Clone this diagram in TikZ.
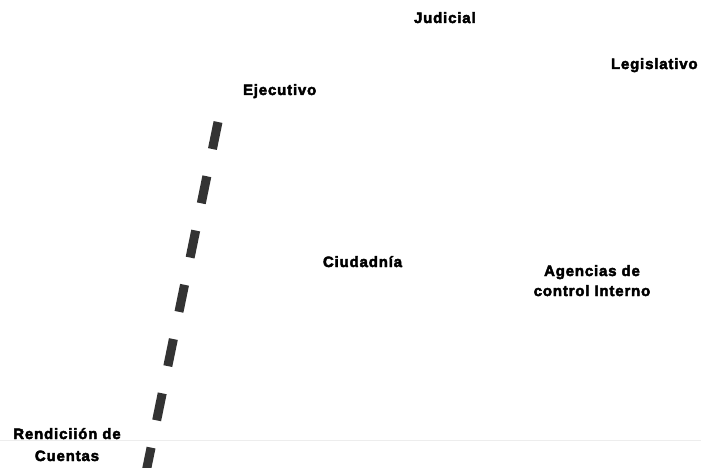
\documentclass[tikz,border=0pt]{standalone}
\usepackage{fontspec}
\setmainfont{Liberation Sans}
\newfontfamily\labfont[LetterSpace=5.5,FakeBold=3]{Liberation Sans Bold}
\begin{document}
\begin{tikzpicture}[x=1pt,y=-1pt,
  lab/.style={inner sep=0pt,outer sep=0pt,font=\labfont\fontsize{15}{22}\selectfont,text=black},
  dashline/.style={line width=9pt,color={rgb,255:red,51;green,51;blue,51},dash pattern=on 27.6pt off 27.8pt}]
\useasboundingbox (0,0) rectangle (701,468);
\clip (0,0) rectangle (701,468);
\fill[white] (0,0) rectangle (701,468);
\coordinate (hl) at (0,440);
\coordinate (hr) at (701,440);
\draw[line width=1pt,color=black!7] (hl) -- (hr);
\coordinate (dtop) at (218,122);
\coordinate (dbot) at (144.4,480);
\draw[dashline] (dtop) -- (dbot);
\node[lab,anchor=base west] (jud) at (414,23) {Judicial};
\node[lab,anchor=base west] (leg) at (611,69) {Legislativo};
\node[lab,anchor=base west] (eje) at (243,95) {Ejecutivo};
\node[lab,anchor=base west] (ciu) at (323,267) {Ciudadnía};
\node[lab,anchor=base,align=center] (age) at (592,296) {Agencias de\\[-2pt]control Interno};
\node[lab,anchor=base,align=center] (ren) at (67,461) {Rendiciión de\\Cuentas};
\end{tikzpicture}
\end{document}
